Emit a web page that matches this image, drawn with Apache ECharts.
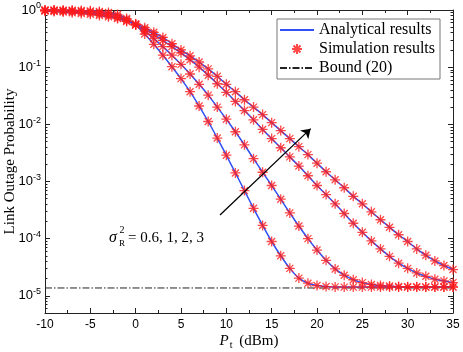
<!DOCTYPE html>
<html>
<head>
<meta charset="utf-8">
<script src="https://cdn.jsdelivr.net/npm/echarts@6/dist/echarts.min.js"></script>
<style>
html, body { margin: 0; padding: 0; background: #fff; }
#chart { width: 463px; height: 352px; }
</style>
</head>
<body>
<div id="chart"></div>
<script>
// transmit power, dBm
const powerDbm = [-10, -9, -8, -7, -6, -5, -4, -3, -2, -1,
  0, 1, 2, 3, 4, 5, 6, 7, 8, 9,
  10, 11, 12, 13, 14, 15, 16, 17, 18, 19,
  20, 21, 22, 23, 24, 25, 26, 27, 28, 29,
  30, 31, 32, 33, 34, 35]

// outage probability, sigma_R^2 = 0.6
const outage06 = [0.998, 0.995, 0.993, 0.989, 0.979, 0.966, 0.944, 0.902, 0.832, 0.708,
  0.550, 0.380, 0.251, 0.162, 0.102, 0.0631, 0.0372, 0.0209, 0.0112, 0.00575,
  0.00288, 0.00141, 6.92e-4, 3.39e-4, 1.70e-4, 8.91e-5, 5.01e-5, 3.02e-5, 2.04e-5, 1.66e-5,
  1.51e-5, 1.45e-5, 1.43e-5, 1.42e-5, 1.42e-5, 1.42e-5, 1.42e-5, 1.42e-5, 1.42e-5, 1.42e-5,
  1.42e-5, 1.42e-5, 1.42e-5, 1.42e-5, 1.42e-5, 1.42e-5]

// sigma_R^2 = 1
const outage1 = [0.993, 0.989, 0.982, 0.973, 0.955, 0.933, 0.902, 0.851, 0.776, 0.676,
  0.550, 0.427, 0.316, 0.229, 0.162, 0.112, 0.0759, 0.0501, 0.0324, 0.0200,
  0.0123, 0.00741, 0.00437, 0.00251, 0.00145, 8.51e-4, 4.90e-4, 2.82e-4, 1.66e-4, 1.00e-4,
  6.31e-5, 4.17e-5, 2.95e-5, 2.29e-5, 1.91e-5, 1.70e-5, 1.58e-5, 1.51e-5, 1.48e-5, 1.45e-5,
  1.44e-5, 1.44e-5, 1.43e-5, 1.43e-5, 1.43e-5, 1.43e-5]

// sigma_R^2 = 2
const outage2 = [0.982, 0.973, 0.959, 0.942, 0.918, 0.891, 0.851, 0.794, 0.724, 0.646,
  0.550, 0.457, 0.372, 0.295, 0.229, 0.178, 0.135, 0.100, 0.0724, 0.0513,
  0.0363, 0.0251, 0.0174, 0.0120, 0.00813, 0.00562, 0.00389, 0.00269, 0.00186, 0.00126,
  8.51e-4, 5.89e-4, 4.07e-4, 2.75e-4, 1.86e-4, 1.29e-4, 9.12e-5, 6.61e-5, 4.90e-5, 3.72e-5,
  3.02e-5, 2.51e-5, 2.19e-5, 1.95e-5, 1.82e-5, 1.70e-5]

// sigma_R^2 = 3
const outage3 = [0.955, 0.940, 0.920, 0.897, 0.871, 0.841, 0.804, 0.759, 0.708, 0.631,
  0.575, 0.490, 0.407, 0.331, 0.257, 0.200, 0.158, 0.123, 0.0933, 0.0692,
  0.0501, 0.0372, 0.0269, 0.0200, 0.0148, 0.0107, 0.00776, 0.00562, 0.00407, 0.00295,
  0.00209, 0.00148, 0.00107, 7.76e-4, 5.50e-4, 4.07e-4, 2.95e-4, 2.14e-4, 1.58e-4, 1.17e-4,
  8.91e-5, 6.61e-5, 5.13e-5, 4.07e-5, 3.39e-5, 2.88e-5]

const boundX = [-10, 35]
const boundY = [1.37e-5, 1.37e-5]

// arrow across the curves, [dBm, probability]
const arrowFrom = [9.3, 2.6e-4]
const arrowTo = [19.3, 8.4e-3]

const curves = [outage06, outage1, outage2, outage3]

const SERIF = "'Liberation Serif', 'Times New Roman', serif"
const SANS = "'Liberation Sans', Arial, sans-serif"
const ASTERISK = 'path://M0,5L10,5M5,0L5,10M1.5,1.5L8.5,8.5M1.5,8.5L8.5,1.5'

function pairs(xs, ys) {
  return xs.map((x, i) => [x, ys[i]])
}

const chart = echarts.init(document.getElementById('chart'))

const lineSeries = curves.map(c => ({
  name: 'Analytical results',
  type: 'line',
  data: pairs(powerDbm, c),
  symbol: 'none',
  smooth: 0.2,
  lineStyle: { color: '#3050f5', width: 1.5 },
  itemStyle: { color: '#3050f5' },
  z: 2,
}))

const markerSeries = curves.map(c => ({
  name: 'Simulation results',
  type: 'scatter',
  data: pairs(powerDbm, c),
  symbol: ASTERISK,
  symbolSize: 10,
  itemStyle: { color: 'none', borderColor: '#ff1a1a', borderWidth: 1.3 },
  z: 3,
}))

const yAxisBase = {
  type: 'log',
  logBase: 10,
  min: 5e-6,
  max: 1,
  axisLine: { show: true, onZero: false, lineStyle: { color: '#222', width: 1 } },
  axisTick: { inside: true, length: 5, lineStyle: { color: '#222' } },
  minorTick: { show: true, splitNumber: 9, length: 2.5, lineStyle: { color: '#222' } },
  splitLine: { show: false },
  minorSplitLine: { show: false },
}

const xAxisBase = {
  type: 'value',
  min: -10,
  max: 35,
  interval: 5,
  axisLine: { show: true, onZero: false, lineStyle: { color: '#222', width: 1 } },
  axisTick: { inside: true, length: 5, lineStyle: { color: '#222' } },
  minorTick: { show: true, splitNumber: 2, length: 3, lineStyle: { color: '#222' } },
  splitLine: { show: false },
}

chart.setOption({
  animation: false,
  backgroundColor: '#fff',
  grid: { left: 45, right: 10, top: 10, bottom: 39, outerBoundsMode: 'none' },
  legend: {
    orient: 'vertical',
    left: 277,
    top: 19,
    data: [
      { name: 'Analytical results', itemStyle: { opacity: 0 } },
      'Simulation results',
      { name: 'Bound (20)', itemStyle: { opacity: 0 } },
    ],
    itemWidth: 34,
    itemHeight: 10,
    itemGap: 3,
    padding: [3, 5, 3, 2],
    borderColor: '#777',
    borderWidth: 1,
    backgroundColor: '#fff',
    textStyle: { fontFamily: SERIF, fontSize: 16, color: '#000' },
  },
  xAxis: [
    Object.assign({}, xAxisBase, {
      position: 'bottom',
      name: '{i|P}{s|t} (dBm)',
      nameLocation: 'middle',
      nameGap: 19,
      nameMoveOverlap: false,
      nameTextStyle: {
        fontFamily: SERIF, fontSize: 15, color: '#000', lineHeight: 18,
        rich: {
          i: { fontFamily: SERIF, fontSize: 15, fontStyle: 'italic', lineHeight: 18 },
          s: { fontFamily: SERIF, fontSize: 10, verticalAlign: 'bottom', lineHeight: 18, padding: [0, 3, 0, 1] },
        },
      },
      axisLabel: { fontFamily: SANS, fontSize: 12, color: '#000', margin: 6 },
    }),
    Object.assign({}, xAxisBase, {
      position: 'top',
      axisLabel: { show: false },
    }),
  ],
  yAxis: [
    Object.assign({}, yAxisBase, {
      position: 'left',
      name: 'Link Outage Probability',
      nameLocation: 'middle',
      nameGap: 27,
      nameMoveOverlap: false,
      nameTextStyle: { fontFamily: SERIF, fontSize: 15, color: '#000' },
      axisLabel: {
        margin: 4,
        showMinLabel: false,
        fontFamily: SANS,
        fontSize: 13,
        color: '#000',
        formatter: v => '{b|10}{e|' + Math.round(Math.log10(v)) + '}',
        rich: {
          b: { fontFamily: SANS, fontSize: 13, lineHeight: 17 },
          e: { fontFamily: SANS, fontSize: 9, verticalAlign: 'top', lineHeight: 17 },
        },
      },
    }),
    Object.assign({}, yAxisBase, {
      position: 'right',
      axisLabel: { show: false },
    }),
  ],
  graphic: [
    { type: 'text', x: 109, y: 238, style: { text: 'σ', fontFamily: SERIF, fontStyle: 'italic', fontSize: 16, fill: '#000', verticalAlign: 'middle' } },
    { type: 'text', x: 119.5, y: 230, style: { text: '2', fontFamily: SERIF, fontSize: 10, fill: '#000', verticalAlign: 'middle' } },
    { type: 'text', x: 119, y: 244, style: { text: 'R', fontFamily: SERIF, fontSize: 9, fill: '#000', verticalAlign: 'middle' } },
    { type: 'text', x: 128, y: 238, style: { text: '= 0.6, 1, 2, 3', fontFamily: SERIF, fontSize: 15, fill: '#000', verticalAlign: 'middle' } },
  ],
  series: [
    ...lineSeries,
    ...markerSeries,
    {
      name: 'Bound (20)',
      type: 'line',
      data: pairs(boundX, boundY),
      symbol: 'none',
      lineStyle: { color: '#222', width: 1, type: [7, 2, 1.5, 2] },
      itemStyle: { color: '#222' },
      z: 1,
      markLine: {
        silent: true,
        symbol: ['none', 'arrow'],
        symbolSize: 9,
        label: { show: false },
        lineStyle: { color: '#000', width: 1.3, type: 'solid' },
        data: [[{ coord: arrowFrom }, { coord: arrowTo }]],
      },
    },
  ],
})
</script>
</body>
</html>
